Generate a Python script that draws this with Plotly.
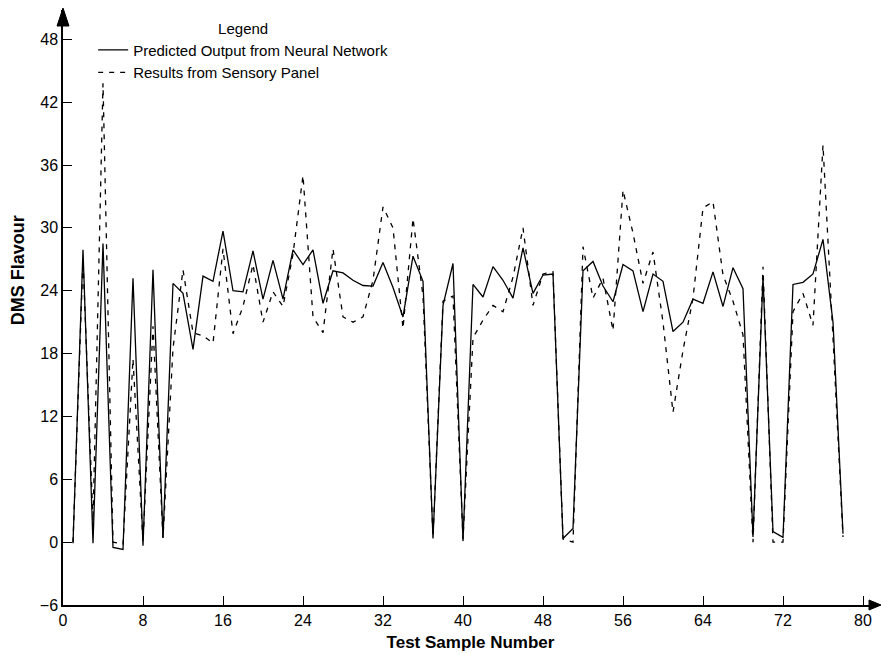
import plotly.graph_objects as go

samples = list(range(1, 79))

predicted = [
    -0.1, 27.9, -0.1, 28.5, -0.5, -0.7, 25.2, -0.35, 26.0, 0.4,
    24.7, 23.75, 18.4, 25.4, 24.9, 29.7, 24.0, 23.9, 27.8, 23.2,
    26.9, 23.2, 27.9, 26.5, 27.9, 22.8, 25.9, 25.7, 25.0, 24.5,
    24.45, 26.7, 24.3, 21.5, 27.3, 24.9, 0.35, 22.6, 26.6, 0.1,
    24.6, 23.4, 26.3, 25.0, 23.3, 28.1, 23.75, 25.5, 25.6, 0.35,
    1.3, 25.9, 26.8, 24.45, 22.95, 26.5, 25.9, 22.0, 25.6, 24.9,
    20.1, 21.0, 23.2, 22.8, 25.8, 22.5, 26.2, 24.2, 0.5, 25.3,
    1.0, 0.45, 24.6, 24.8, 25.6, 28.9, 21.0, 0.8,
]

sensory = [
    0.0, 27.0, 2.0, 43.8, 0.0, -0.2, 17.5, 0.0, 20.6, 0.4,
    18.5, 26.0, 20.0, 19.7, 19.0, 28.0, 19.9, 22.5, 26.5, 21.0,
    23.9, 22.5, 27.5, 35.0, 21.5, 20.0, 28.0, 21.5, 21.0, 21.5,
    25.0, 32.0, 30.0, 20.4, 30.9, 23.5, 0.5, 23.0, 23.5, 0.3,
    19.5, 21.2, 22.6, 22.0, 25.3, 30.0, 22.6, 25.6, 25.8, 0.3,
    0.0, 28.2, 23.3, 25.2, 20.2, 33.6, 29.5, 24.7, 27.7, 21.0,
    12.4, 18.3, 23.3, 31.9, 32.5, 25.5, 23.0, 19.8, 0.0, 26.3,
    0.0, 0.0, 22.0, 23.75, 20.7, 37.9, 19.5, 0.5,
]

x_ticks = list(range(0, 81, 8))
y_ticks = list(range(-6, 49, 6))

FONT = "Liberation Sans, Arial, Helvetica, sans-serif"

fig = go.Figure()
fig.add_trace(go.Scatter(
    x=samples, y=predicted, mode="lines",
    name="Predicted Output from Neural Network",
    line=dict(color="black", width=1.3),
))
fig.add_trace(go.Scatter(
    x=samples, y=sensory, mode="lines",
    name="Results from Sensory Panel",
    line=dict(color="black", width=1.3, dash="5px,6px"),
))

axis_common = dict(
    showgrid=False, zeroline=False, showline=True, linecolor="black",
    linewidth=1.5, ticks="inside", ticklen=9, tickwidth=1, tickcolor="black",
    tickfont=dict(family=FONT, size=16, color="black"),
)

fig.update_layout(
    width=881, height=655,
    margin=dict(l=63, r=3, t=10, b=50),
    paper_bgcolor="white", plot_bgcolor="white",
    font=dict(family=FONT, color="black"),
    xaxis=dict(
        range=[0, 81.5], tickvals=x_ticks,
        title=dict(text="<b>Test Sample Number</b>", font=dict(family=FONT, size=17), standoff=8),
        **axis_common,
    ),
    yaxis=dict(
        range=[-6, 50.8], tickvals=y_ticks,
        **axis_common,
    ),
    legend=dict(
        x=0.037, y=0.993, xanchor="left", yanchor="top",
        bgcolor="rgba(0,0,0,0)", borderwidth=0,
        font=dict(family=FONT, size=15, color="black"),
        title=dict(text="Legend", side="top center", font=dict(family=FONT, size=15)),
        tracegroupgap=0,
    ),
    annotations=[
        dict(text="<b>DMS Flavour</b>", xref="paper", yref="paper",
             x=-0.055, y=0.563, xanchor="center", yanchor="middle",
             textangle=-90, showarrow=False,
             font=dict(family=FONT, size=18, color="black")),
    ],
    shapes=[
        dict(type="path", xref="paper", yref="paper", xsizemode="pixel", ysizemode="pixel",
             xanchor=0, yanchor=1, path="M -6,-16 L 6,-16 L 0,2 Z",
             fillcolor="black", line=dict(color="black", width=1)),
        dict(type="path", xref="paper", yref="paper", xsizemode="pixel", ysizemode="pixel",
             xanchor=1, yanchor=0, path="M -9,-5 L -9,5 L 3,0 Z",
             fillcolor="black", line=dict(color="black", width=1)),
    ],
)

fig.write_html("out.html")
